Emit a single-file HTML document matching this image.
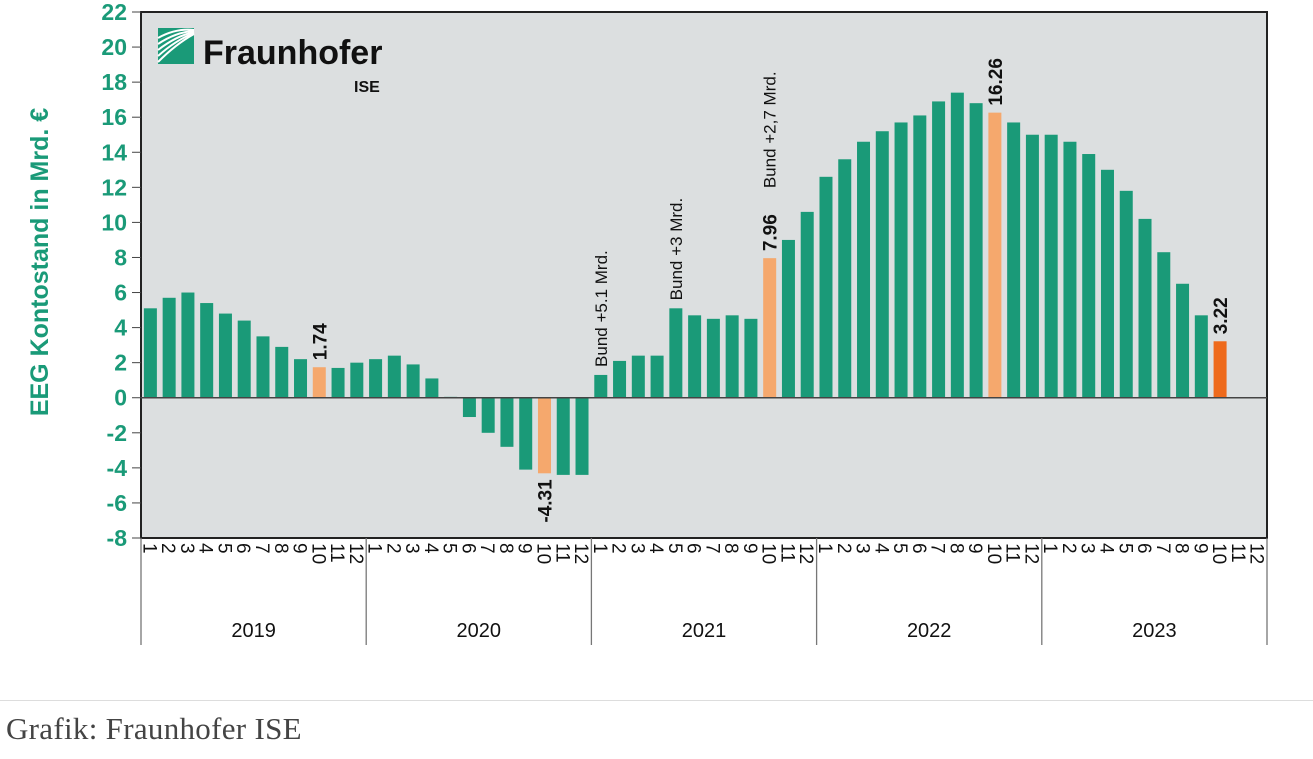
<!DOCTYPE html>
<html><head><meta charset="utf-8"><style>
body{margin:0;background:#fff;width:1313px;height:759px;overflow:hidden;font-family:"Liberation Sans",sans-serif}
svg{position:absolute;left:0;top:0}
.cap{position:absolute;left:6px;top:711px;font-family:"Liberation Serif",serif;font-size:31px;color:#444;letter-spacing:0.3px}
.rule{position:absolute;left:0;top:700px;width:1313px;height:1px;background:#ddd}
</style></head><body>
<svg id="chart" width="1313" height="700" xmlns="http://www.w3.org/2000/svg"></svg>
<div class="rule"></div>
<div class="cap">Grafik: Fraunhofer ISE</div>
<script>
const years = ["2019","2020","2021","2022","2023"];
const values = [5.1,5.7,6.0,5.4,4.8,4.4,3.5,2.9,2.2,1.74,1.7,2.0,
 2.2,2.4,1.9,1.1,0.05,-1.1,-2.0,-2.8,-4.1,-4.31,-4.4,-4.4,
 1.3,2.1,2.4,2.4,5.1,4.7,4.5,4.7,4.5,7.96,9.0,10.6,
 12.6,13.6,14.6,15.2,15.7,16.1,16.9,17.4,16.8,16.26,15.7,15.0,
 15.0,14.6,13.9,13.0,11.8,10.2,8.3,6.5,4.7,3.22,null,null];
const highlight = [9,21,33,45];
const current = [57];
const yTicks = [-8,-6,-4,-2,0,2,4,6,8,10,12,14,16,18,20,22];
const notes = [[24,"Bund +5.1 Mrd."],[28,"Bund +3 Mrd."],[33,"Bund +2,7 Mrd."]];
const NS="http://www.w3.org/2000/svg";
const svg=document.getElementById('chart');
const L=141,R=1267,T=12,B=538,yMin=-8,yMax=22;
const y=v=>T+(yMax-v)/(yMax-yMin)*(B-T);
const bw=(R-L)/values.length;
const x=i=>L+bw*(i+0.5);
function el(t,a,txt){const e=document.createElementNS(NS,t);for(const k in a)e.setAttribute(k,a[k]);if(txt!=null)e.textContent=txt;svg.appendChild(e);return e;}
const bg=el('rect',{x:L,y:T,width:R-L,height:B-T,fill:'#dcdfe0',stroke:'#222','stroke-width':2});


const lg=el('rect',{x:158,y:28,width:36,height:36,fill:'#1a9a78'});


for(let k=0;k<5;k++){const p=el('path',{d:`M158 ${62-k*6} Q176 ${44-k*4} 194 ${34-k*1}`,stroke:'#fff','stroke-width':2,fill:'none'});}
const lt=el('text',{x:203,y:64,'font-size':34,'font-weight':'bold',fill:'#111'},'Fraunhofer');


const li=el('text',{x:354,y:92,'font-size':16,'font-weight':'bold',fill:'#111'},'ISE');


yTicks.forEach(v=>{const t=el('text',{x:127,y:y(v)+8,'text-anchor':'end','font-size':23,'font-weight':'bold',fill:'#1a9a78'},String(v));


const tk=el('line',{x1:132,x2:L,y1:y(v),y2:y(v),stroke:'#444','stroke-width':1});

});
const yt=el('text',{x:0,y:0,transform:'translate(48,262) rotate(-90)','text-anchor':'middle','font-size':25,'font-weight':'bold',fill:'#1a9a78'},'EEG Kontostand in Mrd. €');


values.forEach((v,i)=>{if(v==null)return;
 const col=current.includes(i)?'#ee6a1c':highlight.includes(i)?'#f5a86d':'#1a9a78';
 const b=el('rect',{x:x(i)-6.5,y:Math.min(y(v),y(0)),width:13,height:Math.max(1,Math.abs(y(v)-y(0))),fill:col});
 
 
 if(highlight.includes(i)||current.includes(i)){
  const pos=v>=0;const yy=pos?y(v)-7:y(v)+6;
  const t=el('text',{x:0,y:0,transform:`translate(${x(i)+7},${yy}) rotate(-90)`,'text-anchor':pos?'start':'end','font-size':19,'font-weight':'bold',fill:'#111'},v.toFixed(2));
  
  
 }});
notes.forEach(([i,s])=>{let base=y(values[i])-8;if(highlight.includes(i))base-=62;
 const t=el('text',{x:0,y:0,transform:`translate(${x(i)+6},${base}) rotate(-90)`,'font-size':17,fill:'#111'},s);
 
 });
const z=el('line',{x1:L,x2:R,y1:y(0),y2:y(0),stroke:'#444','stroke-width':1.5});


values.forEach((v,i)=>{const t=el('text',{x:0,y:0,transform:`translate(${x(i)-7},543) rotate(90)`,'font-size':19,fill:'#111'},String(i%12+1));
 
 });
for(let k=0;k<=years.length;k++){const xx=L+k*12*bw;const s=el('line',{x1:xx,x2:xx,y1:B,y2:645,stroke:'#777','stroke-width':1.3});
 
 }
years.forEach((yr,k)=>{const t=el('text',{x:L+(k*12+6)*bw,y:637,'text-anchor':'middle','font-size':20,fill:'#111'},yr);
 
 });
</script>
</body></html>
